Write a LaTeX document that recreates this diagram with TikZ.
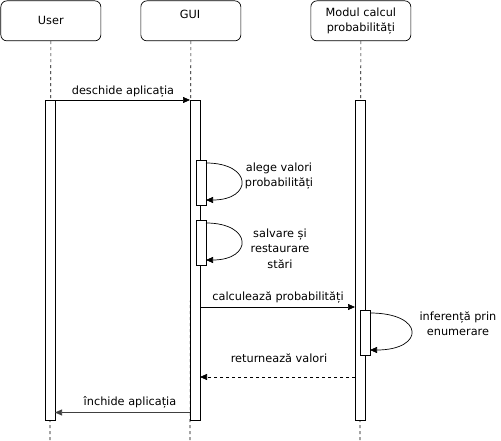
\documentclass[tikz,border=0pt]{standalone}
\usepackage{fontspec}
\setmainfont{DejaVu Sans}
\usetikzlibrary{arrows.meta}
\begin{document}
\begin{tikzpicture}[x=1pt,y=-1pt,
  actor/.style={draw, rounded corners=6pt, minimum width=100pt, minimum height=40pt, inner sep=0pt, anchor=north west, align=center, font=\fontsize{11.3}{15.5}\selectfont, line width=0.7pt},
  life/.style={dash pattern=on 3pt off 3pt, line width=0.6pt},
  act/.style={draw, fill=white, minimum width=10pt, inner sep=0pt, anchor=north west, line width=0.7pt},
  msg/.style={-{Triangle[length=7pt,width=6pt]}, line width=0.7pt},
  lbl/.style={font=\fontsize{11.3}{15.5}\selectfont, align=center, inner sep=0pt}
]
\useasboundingbox (0,0) rectangle (501,441);
% actors
\node[actor] (u) at (0.5,0.5) {User};
\node[actor, anchor=north west, minimum height=40pt] (g) at (140.5,0.5) {};
\node[lbl] (gt) at (190,14) {GUI};
\node[actor] (m) at (310.5,0.5) {Modul calcul\\probabilități};
% lifelines
\coordinate (ue) at (50,441);
\coordinate (ge) at (190,441);
\coordinate (me) at (360,441);
\draw[life] (u.south) -- (ue);
\draw[life] (g.south) -- (ge);
\draw[life] (m.south) -- (me);
% activations
\node[act, minimum height=320pt] (ua) at (45,100) {};
\node[act, minimum height=320pt] (ga) at (190,100) {};
\node[act, minimum height=320pt] (ma) at (355,100) {};
\node[act, minimum height=45pt] (g1) at (196,160) {};
\node[act, minimum height=45pt] (g2) at (196,220) {};
\node[act, minimum height=45pt] (m1) at (360,310) {};
% deschide
\draw[msg] (ua.north east) -- (ga.north west);
\node[lbl] (l1) at (123,92) {deschide aplicația};
% self loops
\coordinate (s1a) at (206,163);
\coordinate (s1b) at (206,200);
\draw[msg] (s1a) .. controls (253,163) and (253,200) .. (s1b);
\node[lbl] (l2) at (279,176) {alege valori\\probabilități};
\coordinate (s2a) at (206,223);
\coordinate (s2b) at (206,260);
\draw[msg] (s2a) .. controls (253,223) and (253,260) .. (s2b);
\node[lbl] (l3) at (280,248.5) {salvare și\\restaurare\\stări};
% calculeaza
\coordinate (c1) at (200,307);
\coordinate (c2) at (355,307);
\draw[msg] (c1) -- (c2);
\node[lbl] (l4) at (278,298) {calculează probabilități};
\coordinate (s3a) at (370,313);
\coordinate (s3b) at (370,350);
\draw[msg] (s3a) .. controls (425,313) and (425,350) .. (s3b);
\node[lbl] (l5) at (458,324) {inferență prin\\enumerare};
% returneaza
\coordinate (r1) at (355,377);
\coordinate (r2) at (200,377);
\draw[msg, dash pattern=on 3pt off 3pt] (r1) -- (r2);
\node[lbl] (l6) at (279,358) {returnează valori};
% inchide
\coordinate (i1) at (190,412.5);
\coordinate (i2) at (55,412.5);
\draw[msg, draw=black!75] (i1) -- (i2);
\node[lbl] (l7) at (130,402) {închide aplicația};
\end{tikzpicture}
\end{document}
